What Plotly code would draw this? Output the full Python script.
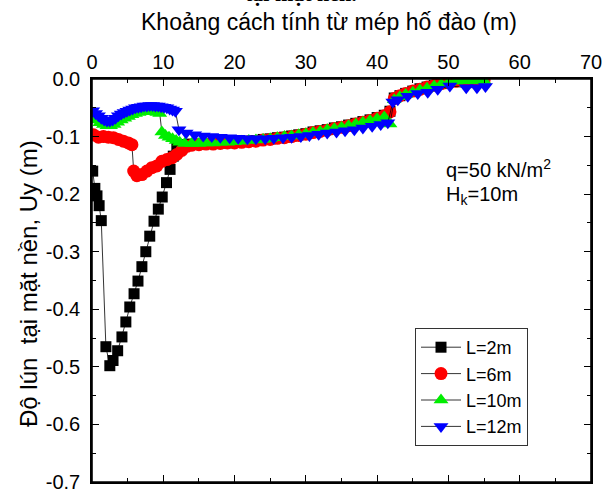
import plotly.graph_objects as go

# ---------------- data ----------------
series_names = ["L=2m", "L=6m", "L=10m", "L=12m"]

x_L2 = [0.1, 0.4, 0.7, 1.0, 1.3,
        1.95, 2.5, 2.95, 3.6, 4.2, 4.75, 5.3, 5.9, 6.45, 7.0, 7.55, 8.1, 8.7, 9.3, 9.85,
        10.45, 10.95, 11.4, 11.9, 12.4,
        13, 14, 15, 16, 17, 18, 19, 20, 21, 22, 23, 24, 25, 26, 27, 28, 29, 30, 31, 32,
        33, 34, 35, 36, 37, 38, 39, 40, 41,
        41.8, 42.4, 43.2,
        44, 45, 46, 47, 48, 49, 50, 51, 52, 53, 54, 55]
y_L2 = [-0.160, -0.190, -0.203, -0.220, -0.246,
        -0.465, -0.498, -0.489, -0.472, -0.448, -0.422, -0.396, -0.373, -0.351, -0.326, -0.300, -0.273, -0.247, -0.226, -0.205,
        -0.180, -0.157, -0.134, -0.118, -0.114,
        -0.114, -0.113, -0.113, -0.112, -0.112, -0.111, -0.111, -0.110, -0.109, -0.108, -0.107, -0.105, -0.104, -0.102, -0.101, -0.099, -0.097, -0.095, -0.092, -0.090,
        -0.088, -0.085, -0.083, -0.080, -0.077, -0.074, -0.071, -0.067, -0.063,
        -0.056, -0.033, -0.029,
        -0.025, -0.021, -0.017, -0.014, -0.011, -0.008, -0.005, -0.003, -0.002, -0.002, -0.002, -0.002]

x_L6 = [0.2, 0.9, 1.6, 2.3, 3.0, 3.7, 4.4, 5.1, 5.6,
        5.85, 6.3, 7.0, 7.7, 8.4, 9.1, 9.8, 10.5, 11.2, 11.9, 12.6, 13.3, 14.0,
        15, 16, 17, 18, 19, 20, 21, 22, 23, 24, 25, 26, 27, 28, 29, 30, 31, 32, 33, 34,
        35, 36, 37, 38, 39, 40, 41,
        41.8, 42.4, 43.2,
        44, 45, 46, 47, 48, 49, 50, 51, 52, 53, 54, 55]
y_L6 = [-0.097, -0.101, -0.100, -0.101, -0.102, -0.105, -0.108, -0.111, -0.114,
        -0.160, -0.168, -0.166, -0.160, -0.154, -0.151, -0.143, -0.140, -0.137, -0.131, -0.124, -0.117, -0.115,
        -0.114, -0.113, -0.113, -0.112, -0.111, -0.111, -0.110, -0.109, -0.108, -0.106, -0.105, -0.103, -0.102, -0.100, -0.098, -0.096, -0.093, -0.091, -0.089, -0.086,
        -0.084, -0.081, -0.078, -0.075, -0.072, -0.068, -0.064,
        -0.057, -0.034, -0.029,
        -0.025, -0.021, -0.018, -0.014, -0.011, -0.008, -0.006, -0.004, -0.002, -0.002, -0.002, -0.002]

x_L10 = [0.1, 0.6, 1.1, 1.6, 2.1, 2.6, 3.1, 3.6, 4.1, 4.6, 5.1, 5.6, 6.1, 6.6, 7.1, 7.6, 8.1, 8.6, 9.1, 9.5,
         9.8, 10.3, 10.8, 11.3, 11.8, 12.3, 13.0,
         14, 15, 16, 17, 18, 19, 20, 21, 22, 23, 24, 25, 26, 27, 28, 29, 30, 31, 32, 33,
         34, 35, 36, 37, 38, 39, 40, 41,
         41.8, 42.4, 43.2,
         44, 45, 46, 47, 48, 49, 50, 51, 52, 53, 54, 55]
y_L10 = [-0.065, -0.071, -0.076, -0.079, -0.081, -0.081, -0.079, -0.075, -0.071, -0.068, -0.065, -0.062, -0.060, -0.058, -0.057, -0.056, -0.056, -0.057, -0.058, -0.060,
         -0.092, -0.098, -0.101, -0.104, -0.107, -0.110, -0.112,
         -0.112, -0.112, -0.111, -0.111, -0.110, -0.110, -0.109, -0.108, -0.107, -0.106, -0.105, -0.104, -0.102, -0.100, -0.099, -0.097, -0.095, -0.093, -0.091, -0.088,
         -0.086, -0.084, -0.081, -0.078, -0.075, -0.072, -0.069, -0.066,
         -0.078, -0.036, -0.031,
         -0.027, -0.023, -0.019, -0.016, -0.012, -0.009, -0.006, -0.004, -0.003, -0.003, -0.003, -0.003]

x_L12 = [0.1, 0.5, 0.9, 1.3, 1.7, 2.1, 2.5, 2.9, 3.3, 3.7, 4.1, 4.5, 4.9, 5.3, 5.7,
         6.1, 6.5, 6.9, 7.3, 7.7, 8.1, 8.5, 8.9, 9.3, 9.7, 10.1, 10.5, 10.9, 11.3, 11.7,
         12.2, 13.2, 14.4, 15.6, 16.8, 18.0, 19.3, 20.5, 21.8, 23.0, 24.3, 25.5, 26.8,
         28.0, 29.3, 30.5, 31.8, 33.0, 34.3, 35.5, 36.8, 38.0, 39.3, 40.5, 41.5,
         42.2, 42.9, 44.3, 45.7, 47.1, 48.5, 50.2, 52.5, 54.0, 55.2]
y_L12 = [-0.055, -0.060, -0.064, -0.068, -0.071, -0.073, -0.073, -0.071, -0.068, -0.064, -0.061, -0.058, -0.056, -0.054, -0.052,
         -0.050, -0.049, -0.048, -0.047, -0.047, -0.046, -0.046, -0.047, -0.047, -0.048, -0.049, -0.050, -0.052, -0.054, -0.056,
         -0.088, -0.094, -0.097, -0.099, -0.100, -0.101, -0.102, -0.103, -0.104, -0.104, -0.104, -0.103, -0.102,
         -0.101, -0.100, -0.098, -0.096, -0.094, -0.092, -0.090, -0.088, -0.085, -0.082, -0.079, -0.076,
         -0.040, -0.036, -0.030, -0.025, -0.023, -0.018, -0.012, -0.015, -0.015, -0.013]

x_tickvals = [0, 10, 20, 30, 40, 50, 60, 70]
x_ticktext = ["0", "10", "20", "30", "40", "50", "60", "70"]
y_tickvals = [0.0, -0.1, -0.2, -0.3, -0.4, -0.5, -0.6, -0.7]
y_ticktext = ["0.0", "-0.1", "-0.2", "-0.3", "-0.4", "-0.5", "-0.6", "-0.7"]

# ---------------- figure ----------------
FONT = "Arial, Liberation Sans, Helvetica, sans-serif"
TOP, BOTTOM, LEFT, RIGHT = 79, 482, 92, 591
PH = BOTTOM - TOP
PW = RIGHT - LEFT

styles = [
    dict(symbol="square", color="#000000", size=11),
    dict(symbol="circle", color="#ff0000", size=13),
    dict(symbol="triangle-up", color="#00ee00", size=13),
    dict(symbol="triangle-down", color="#0000ff", size=13),
]
xs = [x_L2, x_L6, x_L10, x_L12]
ys = [y_L2, y_L6, y_L10, y_L12]

fig = go.Figure()
for name, xv, yv, st in zip(series_names, xs, ys, styles):
    fig.add_trace(go.Scatter(
        x=xv, y=yv, name=name, mode="lines+markers",
        line=dict(color="#000000", width=0.8),
        marker=dict(symbol=st["symbol"], color=st["color"], size=st["size"], line=dict(width=0)),
        cliponaxis=True,
    ))

axis_common = dict(
    showgrid=False, zeroline=False, showline=True, linecolor="#000000", linewidth=1.6,
    ticks="inside", ticklen=7, tickwidth=1.4, tickcolor="#000000",
    mirror="allticks", automargin=False, ticklabeloverflow="allow",
    tickfont=dict(family=FONT, size=20, color="#000000"),
)
fig.update_xaxes(
    range=[0, 70], side="top", tickmode="array", tickvals=x_tickvals, ticktext=x_ticktext,
    minor=dict(dtick=5, ticks="inside", ticklen=4, tickwidth=1.2, tickcolor="#000000"),
    **axis_common,
)
fig.update_yaxes(
    range=[-0.7, 0.0], tickmode="array", tickvals=y_tickvals, ticktext=y_ticktext,
    minor=dict(dtick=0.05, ticks="inside", ticklen=4, tickwidth=1.2, tickcolor="#000000"),
    ticklabelstandoff=6,
    **axis_common,
)


def px_to_paper_y(p):
    return (BOTTOM - p) / PH


def px_to_paper_x(p):
    return (p - LEFT) / PW


fig.update_layout(
    width=603, height=491,
    margin=dict(l=LEFT, r=603 - RIGHT, t=TOP, b=491 - BOTTOM),
    paper_bgcolor="white", plot_bgcolor="white",
    font=dict(family=FONT, color="#000000"),
    showlegend=True,
    legend=dict(
        x=px_to_paper_x(415), y=px_to_paper_y(328), xanchor="left", yanchor="top",
        bordercolor="#333333", borderwidth=1, bgcolor="white",
        font=dict(family=FONT, size=18, color="#000000"),
        tracegroupgap=0, itemwidth=40,
    ),
    shapes=[
        dict(type="rect", xref="paper", yref="paper", x0=0, x1=1, y0=0, y1=1,
             line=dict(color="#000000", width=1.6), fillcolor="rgba(0,0,0,0)", layer="above"),
    ],
    annotations=[
        dict(text="Khoảng cách tính từ mép hố đào (m)", xref="paper", yref="paper",
             x=px_to_paper_x(329), y=px_to_paper_y(22), xanchor="center", yanchor="middle", showarrow=False,
             font=dict(family=FONT, size=23, color="#000000")),
        dict(text="Độ lún  tại mặt nền, Uy (m)", xref="paper", yref="paper",
             x=px_to_paper_x(28), y=px_to_paper_y(284), xanchor="center", yanchor="middle", showarrow=False,
             textangle=-90, font=dict(family=FONT, size=24, color="#000000")),
        dict(text="q=50 kN/m<sup>2</sup>", xref="paper", yref="paper",
             x=px_to_paper_x(444), y=px_to_paper_y(168), xanchor="left", yanchor="middle", showarrow=False,
             font=dict(family=FONT, size=20, color="#000000")),
        dict(text="H<sub>k</sub>=10m", xref="paper", yref="paper",
             x=px_to_paper_x(444), y=px_to_paper_y(195), xanchor="left", yanchor="middle", showarrow=False,
             font=dict(family=FONT, size=20, color="#000000")),
        dict(text="<b>tại mặt nền.</b>", xref="paper", yref="paper",
             x=px_to_paper_x(301), y=px_to_paper_y(-7), xanchor="center", yanchor="middle", showarrow=False,
             font=dict(family="Times New Roman, Liberation Serif, serif", size=22, color="#000000")),
    ],
)

fig.write_html(
    "out.html",
    config={"displayModeBar": False},
    post_script="document.body.style.margin='0px';document.body.style.padding='0px';"
                "document.body.style.overflow='hidden';document.documentElement.style.overflow='hidden';",
)
